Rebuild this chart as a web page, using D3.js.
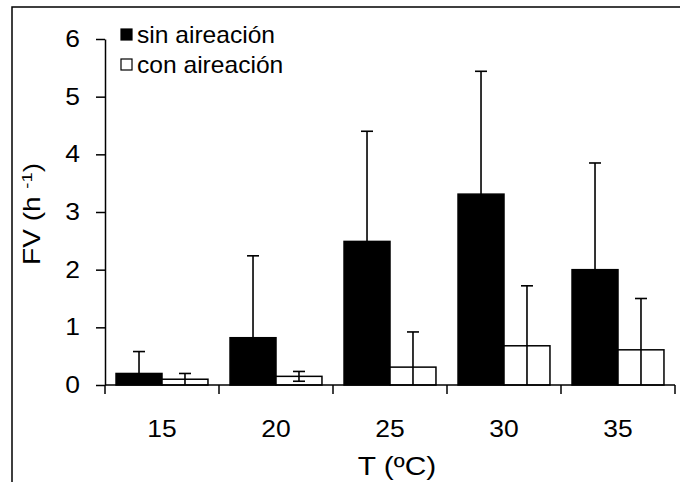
<!DOCTYPE html>
<html>
<head>
<meta charset="utf-8">
<script src="https://cdn.jsdelivr.net/npm/d3@7"></script>
<style>
  html, body { margin: 0; padding: 0; background: #fff; }
  svg { display: block; font-family: "Liberation Sans", Arial, sans-serif; }
</style>
</head>
<body>
<svg id="chart" width="680" height="482"></svg>
<script>
// Temperatures (ºC) on the category axis
const temperatures = ["15", "20", "25", "30", "35"];
// FV (h-1) without aeration: means and standard deviations
const sinAireacion = [0.20, 0.82, 2.49, 3.31, 2.00];
const sinAireacionSD = [0.38, 1.42, 1.91, 2.13, 1.85];
// FV (h-1) with aeration: means and standard deviations
const conAireacion = [0.10, 0.15, 0.31, 0.68, 0.61];
const conAireacionSD = [0.10, 0.085, 0.61, 1.04, 0.89];
// Y axis ticks
const yTicks = [0, 1, 2, 3, 4, 5, 6];
const seriesNames = ["sin aireación", "con aireación"];
const seriesFill = ["#000000", "#ffffff"];

const series = [
  { name: seriesNames[0], fill: seriesFill[0], values: sinAireacion, sd: sinAireacionSD },
  { name: seriesNames[1], fill: seriesFill[1], values: conAireacion, sd: conAireacionSD }
];

const svg = d3.select("#chart");
const plotLeft = 105, plotRight = 675, plotTop = 39, plotBottom = 385;

// widen glyphs horizontally about the text anchor point
function widen(sel, k) {
  sel.each(function () {
    const t = d3.select(this);
    const ax = +t.attr("x") || 0;
    const prev = t.attr("transform") || "";
    t.attr("transform", `${prev} translate(${ax},0) scale(${k},1) translate(${-ax},0)`);
  });
}

// outer frame
svg.append("rect")
  .attr("x", 12).attr("y", 7).attr("width", 690).attr("height", 520)
  .attr("fill", "none").attr("stroke", "#000").attr("stroke-width", 1.5);

const x = d3.scaleBand().domain(temperatures).range([plotLeft, plotRight]).padding(0);
const xs = d3.scaleBand().domain(seriesNames).range([0, x.bandwidth()])
  .paddingInner(0).paddingOuter(0.24);
const y = d3.scaleLinear().domain([0, 6]).range([plotBottom, plotTop]);

// bars
const groups = svg.append("g").selectAll("g")
  .data(series).join("g");

groups.selectAll("rect")
  .data(s => s.values.map((v, i) => ({ s, v, cat: temperatures[i] })))
  .join("rect")
  .attr("x", d => x(d.cat) + xs(d.s.name))
  .attr("y", d => y(d.v))
  .attr("width", xs.bandwidth())
  .attr("height", d => y(0) - y(d.v))
  .attr("fill", d => d.s.fill)
  .attr("stroke", "#000")
  .attr("stroke-width", 1.5);

// error bars (minus side clipped at the axis)
const capHalf = 6;
const errData = [];
series.forEach(s => s.values.forEach((v, i) => {
  errData.push({ s, v, sd: s.sd[i], cat: temperatures[i] });
}));
const eb = svg.append("g").attr("stroke", "#000").attr("stroke-width", 1.6).attr("fill", "none");
errData.forEach(d => {
  const cx = x(d.cat) + xs(d.s.name) + xs.bandwidth() / 2;
  const hi = d.v + d.sd;
  const lo = Math.max(0, d.v - d.sd);
  eb.append("line").attr("x1", cx).attr("x2", cx).attr("y1", y(hi)).attr("y2", y(lo));
  eb.append("line").attr("x1", cx - capHalf).attr("x2", cx + capHalf).attr("y1", y(hi)).attr("y2", y(hi));
  if (d.v - d.sd > 0) {
    eb.append("line").attr("x1", cx - capHalf).attr("x2", cx + capHalf).attr("y1", y(lo)).attr("y2", y(lo));
  }
});

// y axis
const yAxis = svg.append("g")
  .attr("transform", `translate(${plotLeft},0)`)
  .call(d3.axisLeft(y).tickValues(yTicks).tickFormat(d3.format("d")).tickSize(9).tickSizeOuter(0).tickPadding(16));
yAxis.select(".domain").attr("stroke-width", 1.5);
yAxis.selectAll(".tick line").attr("stroke-width", 1.5);
yAxis.selectAll("text").attr("font-size", 23).attr("fill", "#000")
  .attr("font-family", "Liberation Sans, Arial, sans-serif");
widen(yAxis.selectAll("text"), 1.15);

// x axis: ticks sit on category boundaries
const xAxis = svg.append("g")
  .attr("transform", `translate(0,${plotBottom})`);
xAxis.append("line").attr("x1", plotLeft).attr("x2", plotRight).attr("stroke", "#000").attr("stroke-width", 1.5);
const boundaries = temperatures.map(t => x(t)).concat([plotRight]);
xAxis.selectAll("line.tk").data(boundaries).join("line").attr("class", "tk")
  .attr("x1", d => d).attr("x2", d => d).attr("y1", 0).attr("y2", 9)
  .attr("stroke", "#000").attr("stroke-width", 1.5);
const xLabels = xAxis.selectAll("text").data(temperatures).join("text")
  .attr("x", d => x(d) + x.bandwidth() / 2)
  .attr("y", 52)
  .attr("text-anchor", "middle")
  .attr("font-size", 23)
  .text(d => d);
widen(xLabels, 1.15);

// axis titles
const xTitle = svg.append("text")
  .attr("x", 397).attr("y", 475)
  .attr("text-anchor", "middle").attr("font-size", 26)
  .text("T (ºC)");
widen(xTitle, 1.15);

const yt = svg.append("text")
  .attr("transform", "translate(40,214) rotate(-90) scale(1.22,1)")
  .attr("text-anchor", "middle").attr("font-size", 23);
yt.append("tspan").text("FV (h ");
yt.append("tspan").attr("font-size", 15).attr("dy", -8).text("-1");
yt.append("tspan").attr("dy", 8).text(")");

// legend
const legend = svg.append("g");
series.forEach((s, i) => {
  const ly = 29 + i * 30;
  legend.append("rect").attr("x", 121).attr("y", ly).attr("width", 11).attr("height", 11)
    .attr("fill", s.fill).attr("stroke", "#000").attr("stroke-width", 1.2);
  const lt = legend.append("text").attr("x", 137).attr("y", ly + 14).attr("font-size", 23).text(s.name);
  widen(lt, 1.07);
});
</script>
</body>
</html>
